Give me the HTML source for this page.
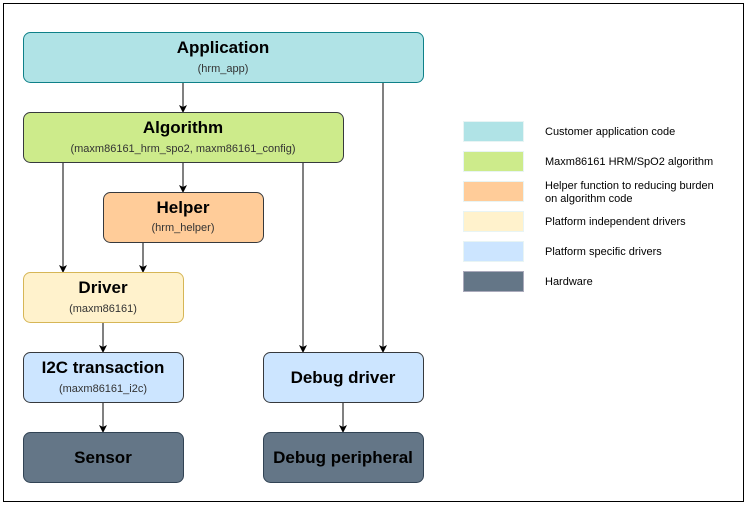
<!DOCTYPE html>
<html><head><style>body{margin:0;background:#fff}svg{display:block}</style></head><body>
<svg width="747" height="506" xmlns="http://www.w3.org/2000/svg" font-family="Liberation Sans, Arial, sans-serif">
<defs><marker id="a" markerWidth="8" markerHeight="8" refX="7" refY="4" orient="auto" markerUnits="userSpaceOnUse"><path d="M0,0 L8,4 L0,8 L2,4 z" fill="#000"/></marker></defs>
<rect x="3.5" y="3.5" width="740" height="498" fill="#fff" stroke="#000"/>
<g stroke="#000" stroke-width="1" fill="none" marker-end="url(#a)">
<line x1="183" y1="82" x2="183" y2="112"/>
<line x1="383" y1="82" x2="383" y2="352"/>
<line x1="63" y1="162" x2="63" y2="272"/>
<line x1="183" y1="162" x2="183" y2="192"/>
<line x1="303" y1="162" x2="303" y2="352"/>
<line x1="143" y1="242" x2="143" y2="272"/>
<line x1="103" y1="322" x2="103" y2="352"/>
<line x1="103" y1="402" x2="103" y2="432"/>
<line x1="343" y1="402" x2="343" y2="432"/>
</g>
<rect x="23.5" y="32.5" width="400" height="50" rx="7" fill="#b0e3e6" stroke="#0e8088"/>
<rect x="23.5" y="112.5" width="320" height="50" rx="7" fill="#cdeb8b" stroke="#36393d"/>
<rect x="103.5" y="192.5" width="160" height="50" rx="7" fill="#ffcc99" stroke="#36393d"/>
<rect x="23.5" y="272.5" width="160" height="50" rx="7" fill="#fff2cc" stroke="#d6b656"/>
<rect x="23.5" y="352.5" width="160" height="50" rx="7" fill="#cce5ff" stroke="#36393d"/>
<rect x="263.5" y="352.5" width="160" height="50" rx="7" fill="#cce5ff" stroke="#36393d"/>
<rect x="23.5" y="432.5" width="160" height="50" rx="7" fill="#647687" stroke="#314354"/>
<rect x="263.5" y="432.5" width="160" height="50" rx="7" fill="#647687" stroke="#314354"/>
<g text-anchor="middle" fill="#000">
<text x="223" y="53" font-size="17" font-weight="bold">Application</text>
<text x="223" y="72" font-size="11" fill="#333">(hrm_app)</text>
<text x="183" y="133" font-size="17" font-weight="bold">Algorithm</text>
<text x="183" y="152" font-size="11" fill="#333">(maxm86161_hrm_spo2, maxm86161_config)</text>
<text x="183" y="213" font-size="17" font-weight="bold">Helper</text>
<text x="183" y="231" font-size="11" fill="#333">(hrm_helper)</text>
<text x="103" y="293" font-size="17" font-weight="bold">Driver</text>
<text x="103" y="312" font-size="11" fill="#333">(maxm86161)</text>
<text x="103" y="373" font-size="17" font-weight="bold">I2C transaction</text>
<text x="103" y="392" font-size="11" fill="#333">(maxm86161_i2c)</text>
<text x="343" y="383" font-size="17" font-weight="bold">Debug driver</text>
<text x="103" y="463" font-size="17" font-weight="bold">Sensor</text>
<text x="343" y="463" font-size="17" font-weight="bold">Debug peripheral</text>
</g>
<g stroke="#e8f4f4" stroke-width="1">
<rect x="463.5" y="121.5" width="60" height="20" fill="#b0e3e6"/>
<rect x="463.5" y="151.5" width="60" height="20" fill="#cdeb8b"/>
<rect x="463.5" y="181.5" width="60" height="20" fill="#ffcc99"/>
<rect x="463.5" y="211.5" width="60" height="20" fill="#fff2cc"/>
<rect x="463.5" y="241.5" width="60" height="20" fill="#cce5ff"/>
<rect x="463.5" y="271.5" width="60" height="20" fill="#647687" stroke="#aab"/>
</g>
<g font-size="11" fill="#000">
<text x="545" y="135">Customer application code</text>
<text x="545" y="165">Maxm86161 HRM/SpO2 algorithm</text>
<text x="545" y="189">Helper function to reducing burden</text>
<text x="545" y="202">on algorithm code</text>
<text x="545" y="225">Platform independent drivers</text>
<text x="545" y="255">Platform specific drivers</text>
<text x="545" y="285">Hardware</text>
</g>
</svg>
</body></html>
